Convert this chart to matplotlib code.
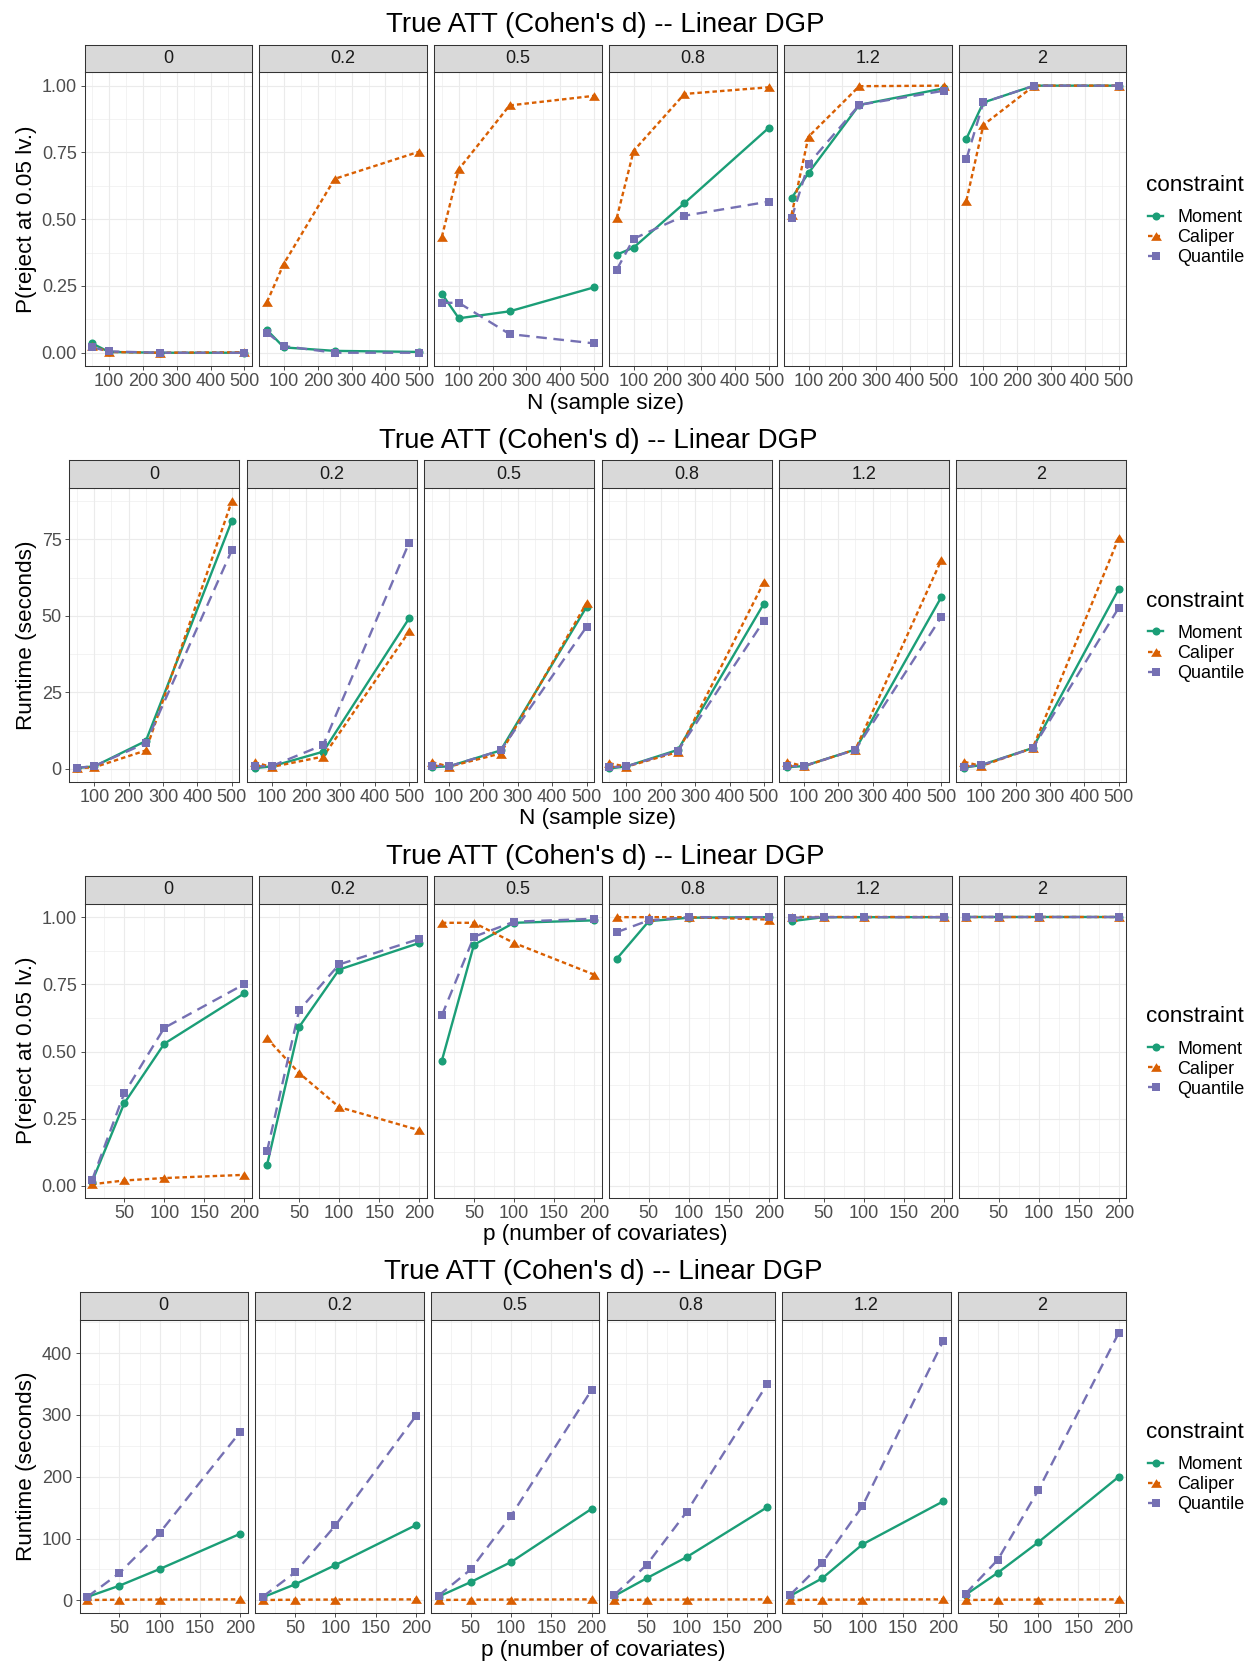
import matplotlib
matplotlib.use("Agg")
import matplotlib.pyplot as plt
from matplotlib.lines import Line2D
from matplotlib.ticker import FixedLocator, AutoMinorLocator, FormatStrFormatter

plt.rcParams['font.family'] = ['Liberation Sans', 'DejaVu Sans']

W, H, DPI = 1251, 1663, 100

effects = ['0', '0.2', '0.5', '0.8', '1.2', '2']
n_values = [50, 100, 250, 500]
p_values = [10, 50, 100, 200]
constraints = ['Moment', 'Caliper', 'Quantile']

# rejection rate vs sample size (one row per true effect)
power_n_moment = [[0.035, 0.003, 0.0, 0.0],
                  [0.085, 0.020, 0.007, 0.003],
                  [0.221, 0.129, 0.155, 0.245],
                  [0.367, 0.394, 0.560, 0.843],
                  [0.579, 0.673, 0.928, 0.990],
                  [0.802, 0.937, 1.0, 1.0]]
power_n_caliper = [[0.025, 0.003, 0.0, 0.002],
                   [0.190, 0.334, 0.651, 0.753],
                   [0.434, 0.687, 0.926, 0.962],
                   [0.504, 0.756, 0.969, 0.994],
                   [0.517, 0.809, 0.998, 1.0],
                   [0.570, 0.853, 1.0, 1.0]]
power_n_quantile = [[0.020, 0.005, 0.0, 0.0],
                    [0.075, 0.025, 0.0, 0.0],
                    [0.187, 0.187, 0.070, 0.035],
                    [0.311, 0.427, 0.513, 0.566],
                    [0.504, 0.707, 0.928, 0.981],
                    [0.726, 0.937, 1.0, 1.0]]

# runtime vs sample size
runtime_n_moment = [[0.3, 0.8, 9.1, 81.0],
                    [0.2, 0.8, 5.6, 49.2],
                    [0.5, 0.8, 6.0, 52.9],
                    [0.1, 0.8, 6.2, 54.0],
                    [0.5, 0.9, 6.3, 56.1],
                    [0.4, 1.2, 6.8, 58.7]]
runtime_n_caliper = [[0.2, 0.5, 6.0, 87.4],
                     [2.1, 0.6, 4.0, 44.9],
                     [2.2, 0.7, 5.0, 54.2],
                     [1.8, 0.7, 5.5, 61.0],
                     [2.3, 0.8, 6.3, 68.2],
                     [2.3, 0.9, 6.8, 75.4]]
runtime_n_quantile = [[0.3, 0.9, 8.4, 71.4],
                      [0.8, 0.9, 7.8, 73.9],
                      [1.0, 0.8, 6.0, 46.4],
                      [0.5, 0.8, 5.9, 48.4],
                      [0.8, 0.9, 6.2, 49.6],
                      [0.6, 1.2, 6.7, 52.6]]

# rejection rate vs number of covariates
power_p_moment = [[0.016, 0.307, 0.529, 0.717],
                  [0.077, 0.591, 0.805, 0.904],
                  [0.466, 0.897, 0.979, 0.988],
                  [0.845, 0.985, 0.998, 1.0],
                  [0.985, 1.0, 1.0, 1.0],
                  [1.0, 1.0, 1.0, 1.0]]
power_p_caliper = [[0.006, 0.020, 0.029, 0.041],
                   [0.549, 0.420, 0.293, 0.207],
                   [0.979, 0.979, 0.904, 0.786],
                   [1.0, 1.0, 1.0, 0.991],
                   [1.0, 1.0, 1.0, 1.0],
                   [1.0, 1.0, 1.0, 1.0]]
power_p_quantile = [[0.022, 0.344, 0.588, 0.751],
                    [0.128, 0.653, 0.824, 0.919],
                    [0.634, 0.927, 0.983, 0.994],
                    [0.944, 0.988, 1.0, 1.0],
                    [0.998, 1.0, 1.0, 1.0],
                    [1.0, 1.0, 1.0, 1.0]]

# runtime vs number of covariates
runtime_p_moment = [[5.4, 23.7, 50.7, 107.8],
                    [5.0, 25.9, 57.1, 121.8],
                    [6.0, 29.6, 62.0, 148.2],
                    [7.0, 35.6, 70.1, 150.9],
                    [7.0, 35.6, 90.6, 160.1],
                    [9.0, 44.7, 93.8, 200.0]]
runtime_p_caliper = [[0.5, 1.0, 1.2, 1.5],
                     [0.5, 1.0, 1.2, 1.5],
                     [0.5, 1.0, 1.2, 1.5],
                     [0.5, 1.0, 1.2, 1.5],
                     [0.5, 1.0, 1.2, 1.5],
                     [0.5, 1.0, 1.2, 1.5]]
runtime_p_quantile = [[5.4, 44.2, 109.4, 272.8],
                      [6.0, 45.3, 121.3, 298.7],
                      [7.5, 50.1, 136.9, 340.7],
                      [8.6, 57.1, 143.4, 350.4],
                      [8.6, 60.4, 152.6, 419.4],
                      [10.8, 65.8, 177.9, 432.9]]

title = "True ATT (Cohen's d) -- Linear DGP"
colors = {'Moment': '#1B9E77', 'Caliper': '#D95F02', 'Quantile': '#7570B3'}
dashes = {'Moment': None, 'Caliper': (1.9, 1.3), 'Quantile': (4.5, 2.8)}
tri = [(0, 0.8), (-1, -0.8), (1, -0.8)]
markers = {'Moment': ('o', 5.8), 'Caliper': (tri, 7.8), 'Quantile': ('s', 5.5)}
LW = 1.7

sections = [
    dict(x=n_values, series=[power_n_moment, power_n_caliper, power_n_quantile],
         xlabel='N (sample size)', ylabel='P(reject at 0.05 lv.)',
         xticks=[100, 200, 300, 400, 500], yticks=[0, 0.25, 0.5, 0.75, 1.0], yfmt='%.2f', left=84.5),
    dict(x=n_values, series=[runtime_n_moment, runtime_n_caliper, runtime_n_quantile],
         xlabel='N (sample size)', ylabel='Runtime (seconds)',
         xticks=[100, 200, 300, 400, 500], yticks=[0, 25, 50, 75], yfmt='%d', left=69.4),
    dict(x=p_values, series=[power_p_moment, power_p_caliper, power_p_quantile],
         xlabel='p (number of covariates)', ylabel='P(reject at 0.05 lv.)',
         xticks=[50, 100, 150, 200], yticks=[0, 0.25, 0.5, 0.75, 1.0], yfmt='%.2f', left=84.5),
    dict(x=p_values, series=[runtime_p_moment, runtime_p_caliper, runtime_p_quantile],
         xlabel='p (number of covariates)', ylabel='Runtime (seconds)',
         xticks=[50, 100, 150, 200], yticks=[0, 100, 200, 300, 400], yfmt='%d', left=79.6),
]

fig = plt.figure(figsize=(W / DPI, H / DPI), dpi=DPI)
fig.patch.set_facecolor('white')


def fx(px):
    return px / W


def fy(py):
    return 1 - py / H


def expand(vals):
    lo, hi = min(vals), max(vals)
    pad = 0.05 * (hi - lo)
    return lo - pad, hi + pad


right = 1126.4
gap = 7.3
sec_h = H / 4

for k, sec in enumerate(sections):
    off = k * sec_h
    strip_top, strip_bot, panel_bot = off + 44.7, off + 72.3, off + 366.1
    left = sec['left']
    pw = (right - left - 5 * gap) / 6
    xlim = expand(sec['x'])
    all_y = [v for s in sec['series'] for row in s for v in row]
    ylim = expand(all_y)

    for j, eff in enumerate(effects):
        x0 = left + j * (pw + gap)
        ax = fig.add_axes([fx(x0), fy(panel_bot), fx(pw), (panel_bot - strip_bot) / H])
        for name, s in zip(constraints, sec['series']):
            ln, = ax.plot(sec['x'], s[j], color=colors[name], lw=LW, zorder=2, solid_capstyle='butt')
            if dashes[name]:
                ln.set_dashes(dashes[name])
                ln.set_dash_capstyle('butt')
        for name, s in zip(constraints, sec['series']):
            m, ms = markers[name]
            ax.plot(sec['x'], s[j], linestyle='none', marker=m, ms=ms, mew=0,
                    color=colors[name], zorder=3)
        ax.set_xlim(xlim)
        ax.set_ylim(ylim)
        ax.xaxis.set_major_locator(FixedLocator(sec['xticks']))
        ax.yaxis.set_major_locator(FixedLocator(sec['yticks']))
        ax.xaxis.set_minor_locator(AutoMinorLocator(2))
        ax.yaxis.set_minor_locator(AutoMinorLocator(2))
        ax.yaxis.set_major_formatter(FormatStrFormatter(sec['yfmt']))
        ax.grid(which='major', color='#EBEBEB', lw=0.8, zorder=0)
        ax.grid(which='minor', color='#EBEBEB', lw=0.4, zorder=0)
        ax.set_axisbelow(True)
        ax.tick_params(which='major', length=2.9, width=0.6, color='#333333',
                       labelsize=13, labelcolor='#4D4D4D')
        ax.tick_params(axis='x', which='major', pad=2.2)
        ax.tick_params(axis='y', which='major', pad=2.6)
        ax.tick_params(which='minor', length=0)
        if j > 0:
            ax.tick_params(axis='y', which='both', left=False, labelleft=False)
        for sp in ax.spines.values():
            sp.set_color('#333333')
            sp.set_linewidth(0.75)

        # facet strip
        st = fig.add_axes([fx(x0), fy(strip_bot), fx(pw), (strip_bot - strip_top) / H])
        st.set_facecolor('#D9D9D9')
        st.set_xticks([])
        st.set_yticks([])
        for sp in st.spines.values():
            sp.set_color('#333333')
            sp.set_linewidth(0.75)
        st.text(0.5, 0.5, eff, ha='center', va='center', fontsize=13, color='#1A1A1A',
                transform=st.transAxes)

    mid_x = (left + right) / 2
    fig.text(fx(mid_x), fy(off + 32), title, ha='center', va='baseline', fontsize=19.9, color='black')
    fig.text(fx(mid_x), fy(off + 403), sec['xlabel'], ha='center', va='center', fontsize=16.2)
    fig.text(fx(26.5), fy((strip_bot + panel_bot) / 2), sec['ylabel'], ha='center', va='center',
             rotation=90, fontsize=16.2)

    # legend
    fig.text(fx(1146), fy(off + 185.3), 'constraint', ha='left', va='center', fontsize=16.2)
    handles = []
    for name in constraints:
        m, ms = markers[name]
        h = Line2D([0], [0], color=colors[name], lw=LW, marker=m, ms=ms, mew=0)
        if dashes[name]:
            h.set_dashes(dashes[name])
        handles.append(h)
    fig.legend(handles, constraints, loc='upper left', bbox_to_anchor=(fx(1147.7), fy(off + 209)),
               frameon=False, borderpad=0, borderaxespad=0, handlelength=0.87,
               handletextpad=0.78, labelspacing=0.17, fontsize=13, numpoints=1)

fig.savefig('out.png', dpi=DPI, facecolor='white')
